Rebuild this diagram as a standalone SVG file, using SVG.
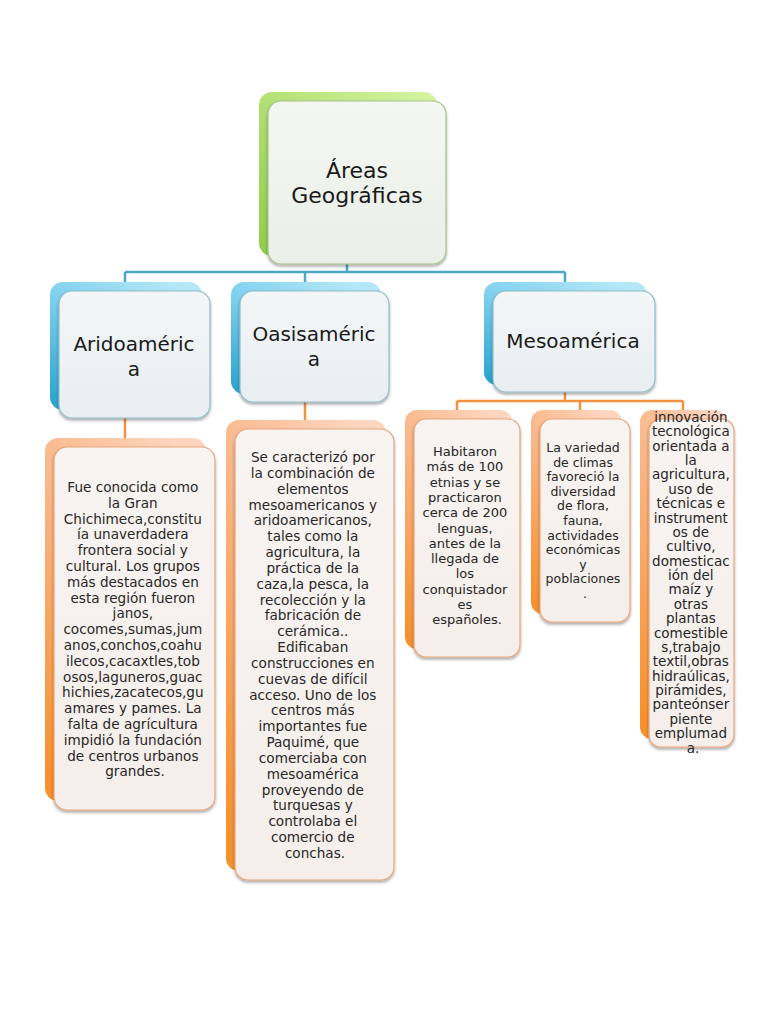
<svg xmlns="http://www.w3.org/2000/svg" width="768" height="1024" viewBox="0 0 768 1024">
<defs>
<linearGradient id="gGreen" x1="1" y1="0" x2="0" y2="1">
<stop offset="0" stop-color="#d6f5a2"/><stop offset="1" stop-color="#8fcc4a"/>
</linearGradient>
<linearGradient id="gBlue" x1="0.8" y1="0" x2="0" y2="0.9">
<stop offset="0" stop-color="#b4e8f8"/><stop offset="0.5" stop-color="#7fd0ee"/><stop offset="1" stop-color="#2fa6d0"/>
</linearGradient>
<linearGradient id="gOrange" x1="0.8" y1="0" x2="0" y2="0.9">
<stop offset="0" stop-color="#fcd6bf"/><stop offset="0.5" stop-color="#fbb78a"/><stop offset="1" stop-color="#f7912f"/>
</linearGradient>
<linearGradient id="fBlue" x1="0" y1="0" x2="0" y2="1">
<stop offset="0" stop-color="#f3f6f7"/><stop offset="1" stop-color="#e8eef1"/>
</linearGradient>
<linearGradient id="fOrange" x1="0" y1="0" x2="0" y2="1">
<stop offset="0" stop-color="#f8f4f2"/><stop offset="1" stop-color="#f5eeea"/>
</linearGradient>
<linearGradient id="fGreen" x1="0" y1="0" x2="0" y2="1">
<stop offset="0" stop-color="#f4f6f2"/><stop offset="1" stop-color="#eaefe8"/>
</linearGradient>
<filter id="sh" x="-10%" y="-10%" width="120%" height="120%">
<feDropShadow dx="0" dy="2" stdDeviation="1.5" flood-color="#000" flood-opacity="0.35"/>
</filter>
</defs>
<style>
.t{font-family:"DejaVu Sans","Liberation Sans",sans-serif;fill:#1a1a1a;text-anchor:middle}
.h1{font-size:22px}
.h2{font-size:20px}
.b{font-size:13.6px;fill:#262626}
.fb{fill:url(#fBlue);stroke:#8fbccc;stroke-width:1.2}
.fo{fill:url(#fOrange);stroke:#eaa57a;stroke-width:1.2}
.fg{fill:url(#fGreen);stroke:#a7c48a;stroke-width:1.2}
.cb{fill:none;stroke:#4aa8c4;stroke-width:2.5}
.co{fill:none;stroke:#f0923f;stroke-width:2.5}
</style>
<rect width="768" height="1024" fill="#ffffff"/>
<g id="connectors">
<path class="cb" d="M347 264 V272 M125 272 H565 M125 272 V283 M305 272 V283 M565 272 V283"/>
<path class="co" d="M125 418 V439 M305 402 V421 M565 392 V401 M457 401 H683 M457 401 V411 M580 401 V411 M683 401 V411"/>
</g>
<g id="root">
<rect x="259" y="92" width="178" height="164" rx="13" fill="url(#gGreen)"/>
<rect x="268" y="101" width="178" height="163" rx="13" class="fg" filter="url(#sh)"/>
<text class="t h1" x="357" y="178">Áreas</text>
<text class="t h1" x="357" y="203">Geográficas</text>
</g>
<g id="aridoamerica">
<rect x="50" y="282" width="152" height="128" rx="13" fill="url(#gBlue)"/>
<rect x="59" y="291" width="151" height="127" rx="13" class="fb" filter="url(#sh)"/>
<text class="t h2" x="134" y="351">Aridoaméric</text>
<text class="t h2" x="134" y="376">a</text>
</g>
<g id="oasisamerica">
<rect x="231" y="282" width="150" height="112" rx="13" fill="url(#gBlue)"/>
<rect x="240" y="291" width="149" height="111" rx="13" class="fb" filter="url(#sh)"/>
<text class="t h2" x="314" y="341">Oasisaméric</text>
<text class="t h2" x="314" y="366">a</text>
</g>
<g id="mesoamerica">
<rect x="484" y="282" width="163" height="103" rx="13" fill="url(#gBlue)"/>
<rect x="493" y="291" width="162" height="101" rx="13" class="fb" filter="url(#sh)"/>
<text class="t h2" x="573" y="348">Mesoamérica</text>
</g>
<g id="arido-text">
<rect x="45" y="438" width="161" height="363" rx="13" fill="url(#gOrange)"/>
<rect x="54" y="447" width="161" height="363" rx="13" class="fo" filter="url(#sh)"/>
<text class="t b" x="135" y="492">
<tspan x="135" dy="0">Fue conocida como</tspan>
<tspan x="135" dy="15.8">la Gran</tspan>
<tspan x="135" dy="15.8">Chichimeca,constitu</tspan>
<tspan x="135" dy="15.8">ía unaverdadera</tspan>
<tspan x="135" dy="15.8">frontera social y</tspan>
<tspan x="135" dy="15.8">cultural. Los grupos</tspan>
<tspan x="135" dy="15.8">más destacados en</tspan>
<tspan x="135" dy="15.8">esta región fueron</tspan>
<tspan x="135" dy="15.8">janos,</tspan>
<tspan x="135" dy="15.8">cocomes,sumas,jum</tspan>
<tspan x="135" dy="15.8">anos,conchos,coahu</tspan>
<tspan x="135" dy="15.8">ilecos,cacaxtles,tob</tspan>
<tspan x="135" dy="15.8">osos,laguneros,guac</tspan>
<tspan x="135" dy="15.8">hichies,zacatecos,gu</tspan>
<tspan x="135" dy="15.8">amares y pames. La</tspan>
<tspan x="135" dy="15.8">falta de agrícultura</tspan>
<tspan x="135" dy="15.8">impidió la fundación</tspan>
<tspan x="135" dy="15.8">de centros urbanos</tspan>
<tspan x="135" dy="15.8">grandes.</tspan>
</text>
</g>
<g id="oasis-text">
<rect x="226" y="420" width="160" height="451" rx="13" fill="url(#gOrange)"/>
<rect x="235" y="429" width="159" height="451" rx="13" class="fo" filter="url(#sh)"/>
<text class="t b" x="315" y="462">
<tspan x="315" dy="0">Se caracterizó por</tspan>
<tspan x="315" dy="15.84">la combinación de</tspan>
<tspan x="315" dy="15.84">elementos</tspan>
<tspan x="315" dy="15.84">mesoamericanos y</tspan>
<tspan x="315" dy="15.84">aridoamericanos,</tspan>
<tspan x="315" dy="15.84">tales como la</tspan>
<tspan x="315" dy="15.84">agricultura, la</tspan>
<tspan x="315" dy="15.84">práctica de la</tspan>
<tspan x="315" dy="15.84">caza,la pesca, la</tspan>
<tspan x="315" dy="15.84">recolección y la</tspan>
<tspan x="315" dy="15.84">fabricación de</tspan>
<tspan x="315" dy="15.84">cerámica..</tspan>
<tspan x="315" dy="15.84">Edificaban</tspan>
<tspan x="315" dy="15.84">construcciones en</tspan>
<tspan x="315" dy="15.84">cuevas de difícil</tspan>
<tspan x="315" dy="15.84">acceso. Uno de los</tspan>
<tspan x="315" dy="15.84">centros más</tspan>
<tspan x="315" dy="15.84">importantes fue</tspan>
<tspan x="315" dy="15.84">Paquimé, que</tspan>
<tspan x="315" dy="15.84">comerciaba con</tspan>
<tspan x="315" dy="15.84">mesoamérica</tspan>
<tspan x="315" dy="15.84">proveyendo de</tspan>
<tspan x="315" dy="15.84">turquesas y</tspan>
<tspan x="315" dy="15.84">controlaba el</tspan>
<tspan x="315" dy="15.84">comercio de</tspan>
<tspan x="315" dy="15.84">conchas.</tspan>
</text>
</g>
<g id="meso-text-1">
<rect x="405" y="410" width="107" height="239" rx="12" fill="url(#gOrange)"/>
<rect x="414" y="419" width="106" height="238" rx="12" class="fo" filter="url(#sh)"/>
<text class="t b" x="467" y="456" style="font-size:13px">
<tspan x="467" dy="0">Habitaron</tspan>
<tspan x="467" dy="15.3">más de 100</tspan>
<tspan x="467" dy="15.3">etnias y se</tspan>
<tspan x="467" dy="15.3">practicaron</tspan>
<tspan x="467" dy="15.3">cerca de 200</tspan>
<tspan x="467" dy="15.3">lenguas,</tspan>
<tspan x="467" dy="15.3">antes de la</tspan>
<tspan x="467" dy="15.3">llegada de</tspan>
<tspan x="467" dy="15.3">los</tspan>
<tspan x="467" dy="15.3">conquistador</tspan>
<tspan x="467" dy="15.3">es</tspan>
<tspan x="467" dy="15.3">españoles.</tspan>
</text>
</g>
<g id="meso-text-2">
<rect x="531" y="410" width="91" height="204" rx="12" fill="url(#gOrange)"/>
<rect x="540" y="419" width="90" height="203" rx="12" class="fo" filter="url(#sh)"/>
<text class="t b" x="585" y="452" style="font-size:12.5px">
<tspan x="585" dy="0">La variedad</tspan>
<tspan x="585" dy="14.6">de climas</tspan>
<tspan x="585" dy="14.6">favoreció la</tspan>
<tspan x="585" dy="14.6">diversidad</tspan>
<tspan x="585" dy="14.6">de flora,</tspan>
<tspan x="585" dy="14.6">fauna,</tspan>
<tspan x="585" dy="14.6">actividades</tspan>
<tspan x="585" dy="14.6">económicas</tspan>
<tspan x="585" dy="14.6">y</tspan>
<tspan x="585" dy="14.6">poblaciones</tspan>
<tspan x="585" dy="14.6">.</tspan>
</text>
</g>
<g id="meso-text-3">
<rect x="640" y="410" width="86" height="329" rx="12" fill="url(#gOrange)"/>
<rect x="649" y="419" width="85" height="328" rx="12" class="fo" filter="url(#sh)"/>
<text class="t b" x="693" y="422" style="font-size:13.5px">
<tspan x="693" dy="0">innovación</tspan>
<tspan x="693" dy="14.37">tecnológica</tspan>
<tspan x="693" dy="14.37">orientada a</tspan>
<tspan x="693" dy="14.37">la</tspan>
<tspan x="693" dy="14.37">agricultura,</tspan>
<tspan x="693" dy="14.37">uso de</tspan>
<tspan x="693" dy="14.37">técnicas e</tspan>
<tspan x="693" dy="14.37">instrument</tspan>
<tspan x="693" dy="14.37">os de</tspan>
<tspan x="693" dy="14.37">cultivo,</tspan>
<tspan x="693" dy="14.37">domesticac</tspan>
<tspan x="693" dy="14.37">ión del</tspan>
<tspan x="693" dy="14.37">maíz y</tspan>
<tspan x="693" dy="14.37">otras</tspan>
<tspan x="693" dy="14.37">plantas</tspan>
<tspan x="693" dy="14.37">comestible</tspan>
<tspan x="693" dy="14.37">s,trabajo</tspan>
<tspan x="693" dy="14.37">textil,obras</tspan>
<tspan x="693" dy="14.37">hidraúlicas,</tspan>
<tspan x="693" dy="14.37">pirámides,</tspan>
<tspan x="693" dy="14.37">panteónser</tspan>
<tspan x="693" dy="14.37">piente</tspan>
<tspan x="693" dy="14.37">emplumad</tspan>
<tspan x="693" dy="14.37">a.</tspan>
</text>
</g>
</svg>
